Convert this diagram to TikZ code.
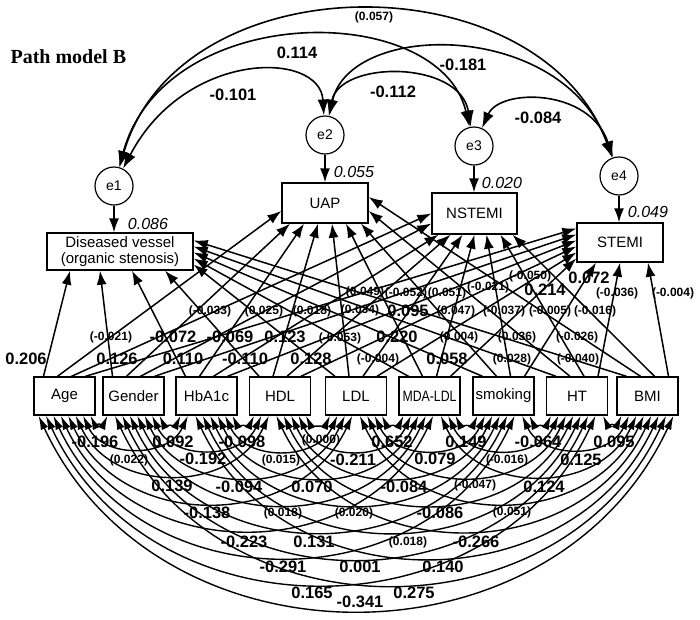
\documentclass[tikz,border=0pt]{standalone}
\usepackage{fontspec}
\usepackage{graphicx}
\setmainfont{Liberation Serif}
\setsansfont{Liberation Sans}
\usetikzlibrary{arrows.meta,calc}
\tikzset{
  box/.style={draw, line width=1.4pt, inner sep=0pt, align=center,
    font=\sffamily\fontsize{15}{16}\selectfont},
  errc/.style={draw, circle, line width=1.2pt, minimum size=38pt, inner sep=0pt,
    font=\sffamily\fontsize{14}{16}\selectfont},
  pth/.style={line width=1.5pt, -{Latex[length=14pt,width=10pt]}},
  cov/.style={line width=1.4pt, {Latex[length=14pt,width=8pt]}-{Latex[length=14pt,width=8pt]}},
  ecov/.style={line width=1.6pt, {Latex[length=16pt,width=11pt]}-{Latex[length=16pt,width=11pt]}},
  big/.style={font=\sffamily\bfseries\fontsize{16.5}{18}\selectfont, inner sep=0pt},
  sml/.style={font=\sffamily\bfseries\fontsize{12}{14}\selectfont, inner sep=0pt},
  rsq/.style={font=\sffamily\itshape\fontsize{16}{18}\selectfont, inner sep=0pt},
}
\begin{document}
\begin{tikzpicture}[x=1pt,y=-1pt]
\fill[white] (0,0) rectangle (700,619);
\useasboundingbox (0,0) rectangle (700,619);

\node[anchor=west, font=\rmfamily\bfseries\fontsize{20}{22}\selectfont] (title) at (7,57) {Path model B};

% outcome boxes
\node[box, minimum width=146pt, minimum height=37pt] (dv) at (120,251.5) {Diseased vessel\\(organic stenosis)};
\node[box, minimum width=86pt, minimum height=40pt] (uap) at (325,203) {UAP};
\node[box, minimum width=85pt, minimum height=41pt] (nst) at (474.5,213.5) {NSTEMI};
\node[box, minimum width=86pt, minimum height=39pt] (stemi) at (620,242.5) {STEMI};

% error terms
\node[errc] (e1) at (114,186) {e1};
\node[errc] (e2) at (325,135) {e2};
\node[errc] (e3) at (474,146) {e3};
\node[errc] (e4) at (619,176) {e4};
\draw[pth] (e1.south) -- (e1.south |- dv.north);
\draw[pth] (e2.south) -- (e2.south |- uap.north);
\draw[pth] (e3.south) -- (e3.south |- nst.north);
\draw[pth] (e4.south) -- (e4.south |- stemi.north);

% R squared
\node[rsq] (r1) at (148,224) {0.086};
\node[rsq] (r2) at (354,172) {0.055};
\node[rsq] (r3) at (502,183) {0.020};
\node[rsq] (r4) at (648,212) {0.049};

% error covariances
\draw[ecov] (e1) .. controls (180,-40) and (540,-40) .. (e4);
\draw[ecov] (e1) .. controls (165,0) and (440,0) .. (e3);
\draw[ecov] (e1) .. controls (185,50) and (320,50) .. (e2);
\draw[ecov] (e2) .. controls (350,20) and (563,20) .. (e4);
\draw[ecov] (e2) .. controls (340,60) and (460,60) .. (e3);
\draw[ecov] (e3) .. controls (500,88) and (590,88) .. (e4);
\node[sml] (c14) at (374,17) {(0.057)};
\node[big] (c13) at (297,53) {0.114};
\node[big] (c12) at (233,95) {-0.101};
\node[big] (c24) at (463,65) {-0.181};
\node[big] (c23) at (393,92) {-0.112};
\node[big] (c34) at (538,118) {-0.084};

% predictors
\foreach \i/\cx/\t in {0/64.5/Age,1/133.5/Gender,2/206.5/HbA1c,3/280/HDL,4/356/LDL,
  5/429.5/{\scalebox{0.82}[1]{MDA-LDL}},6/503.5/smoking,7/577/HT,8/647.5/BMI}{
  \node[box, minimum width=61pt, minimum height=38pt] (p\i) at (\cx,396) {\t};
}

% paths to Diseased vessel
\draw[pth] ([xshift=-21pt]p0.north) -- ([xshift=-50pt]dv.south);
\draw[pth] ([xshift=-21pt]p1.north) -- ([xshift=-20pt]dv.south);
\draw[pth] ([xshift=-21pt]p2.north) -- ([xshift=12pt]dv.south);
\draw[pth] ([xshift=-21pt]p3.north) -- ([xshift=45pt]dv.south);
\draw[pth] ([xshift=-21pt]p4.north) -- ([yshift=-13pt]dv.east);
\draw[pth] ([xshift=-21pt]p5.north) -- ([yshift=-7pt]dv.east);
\draw[pth] ([xshift=-21pt]p6.north) -- ([yshift=-1pt]dv.east);
\draw[pth] ([xshift=-21pt]p7.north) -- ([yshift=5pt]dv.east);
\draw[pth] ([xshift=-21pt]p8.north) -- ([yshift=11pt]dv.east);
% paths to UAP
\draw[pth] ([xshift=-7pt]p0.north) -- ([yshift=-8pt]uap.west);
\draw[pth] ([xshift=-7pt]p1.north) -- ([xshift=-35pt]uap.south);
\draw[pth] ([xshift=-7pt]p2.north) -- ([xshift=-21pt]uap.south);
\draw[pth] ([xshift=-7pt]p3.north) -- ([xshift=-7pt]uap.south);
\draw[pth] ([xshift=-7pt]p4.north) -- ([xshift=7pt]uap.south);
\draw[pth] ([xshift=-7pt]p5.north) -- ([xshift=21pt]uap.south);
\draw[pth] ([xshift=-7pt]p6.north) -- ([xshift=36pt]uap.south);
\draw[pth] ([xshift=-7pt]p7.north) -- ([yshift=-8pt]uap.east);
\draw[pth] ([xshift=-7pt]p8.north) -- ([yshift=6pt]uap.east);
% paths to NSTEMI
\draw[pth] ([xshift=7pt]p0.north) -- (nst.west);
\draw[pth] ([xshift=7pt]p1.north) -- ([yshift=-10pt]nst.west);
\draw[pth] ([xshift=7pt]p2.north) -- ([xshift=-36pt]nst.south);
\draw[pth] ([xshift=7pt]p3.north) -- ([xshift=-24pt]nst.south);
\draw[pth] ([xshift=7pt]p4.north) -- ([xshift=-12pt]nst.south);
\draw[pth] ([xshift=7pt]p5.north) -- (nst.south);
\draw[pth] ([xshift=7pt]p6.north) -- ([xshift=12pt]nst.south);
\draw[pth] ([xshift=7pt]p7.north) -- ([xshift=26pt]nst.south);
\draw[pth] ([xshift=7pt]p8.north) -- ([xshift=38pt]nst.south);
% paths to STEMI
\draw[pth] ([xshift=21pt]p0.north) -- ([yshift=14pt]stemi.west);
\draw[pth] ([xshift=21pt]p1.north) -- ([yshift=8pt]stemi.west);
\draw[pth] ([xshift=21pt]p2.north) -- ([yshift=2pt]stemi.west);
\draw[pth] ([xshift=21pt]p3.north) -- ([yshift=-4pt]stemi.west);
\draw[pth] ([xshift=21pt]p4.north) -- ([yshift=-10pt]stemi.west);
\draw[pth] ([xshift=21pt]p5.north) -- ([yshift=-16pt]stemi.west);
\draw[pth] ([xshift=21pt]p6.north) -- ([xshift=-24pt]stemi.south);
\draw[pth] ([xshift=21pt]p7.north) -- (stemi.south);
\draw[pth] ([xshift=21pt]p8.north) -- ([xshift=28pt]stemi.south);

% path coefficient labels
\node[big] at (26,359) {0.206};
\node[big] at (117,359) {0.126};
\node[big] at (183,359) {0.110};
\node[big] at (245,359) {-0.110};
\node[big] at (311,359) {0.128};
\node[sml] at (378,359) {(-0.004)};
\node[big] at (447,359) {0.058};
\node[sml] at (512,359) {(0.028)};
\node[sml] at (578,359) {(-0.040)};

\node[sml] at (111,337) {(-0.021)};
\node[big] at (173,337) {-0.072};
\node[big] at (230,337) {-0.069};
\node[big] at (285,337) {0.123};
\node[sml] at (340,338) {(-0.053)};
\node[big] at (397,337) {0.220};
\node[sml] at (459,337) {(0.004)};
\node[sml] at (517,337) {(0.036)};
\node[sml] at (577,337) {(-0.026)};

\node[sml] at (210,311) {(-0.033)};
\node[sml] at (264,311) {(0.025)};
\node[sml] at (312,311) {(0.018)};
\node[sml] at (360,310) {(0.034)};
\node[big] at (408,311) {0.095};
\node[sml] at (456,311) {(0.047)};
\node[sml] at (504,311) {(-0.037)};
\node[sml] at (550,311) {(-0.005)};
\node[sml] at (595,311) {(-0.016)};

\node[sml] at (365,292) {(0.049)};
\node[sml] at (406,293) {(-0.052)};
\node[sml] at (447,293) {(0.051)};
\node[sml] at (488,287) {(-0.021)};
\node[sml] at (530,276) {(-0.050)};
\node[big] at (545,290) {0.214};
\node[big] at (589,278) {0.072};
\node[sml] at (617,293) {(-0.036)};
\node[sml] at (673,293) {(-0.004)};

% predictor covariances
\foreach \a in {0,...,7}{
  \pgfmathtruncatemacro{\aa}{\a+1}
  \foreach \b in {\aa,...,8}{
    \pgfmathsetmacro{\xa}{-26+(\a+8-\b)*52/7}
    \pgfmathsetmacro{\xb}{-26+(\b-1-\a)*52/7}
    \draw[cov] ([xshift=\xa pt]p\a.south) to[bend right=65, looseness=1.15] ([xshift=\xb pt]p\b.south);
  }
}

\node[big] at (95,442) {-0.196};
\node[big] at (173,442) {0.092};
\node[big] at (242,442) {-0.098};
\node[sml] at (321,440) {(0.000)};
\node[big] at (392,442) {0.652};
\node[big] at (466,442) {0.149};
\node[big] at (538,442) {-0.064};
\node[big] at (614,442) {0.095};

\node[sml] at (129,460) {(0.022)};
\node[big] at (203,459) {-0.192};
\node[sml] at (281,460) {(0.015)};
\node[big] at (353,460) {-0.211};
\node[big] at (435,459) {0.079};
\node[sml] at (507,460) {(-0.016)};
\node[big] at (581,460) {0.125};

\node[big] at (172,486) {0.139};
\node[big] at (239,487) {-0.094};
\node[big] at (312,487) {0.070};
\node[big] at (404,487) {-0.084};
\node[sml] at (475,485) {(-0.047)};
\node[big] at (544,487) {0.124};

\node[big] at (207,513) {-0.138};
\node[sml] at (283,513) {(0.018)};
\node[sml] at (354,513) {(0.020)};
\node[big] at (440,513) {-0.086};
\node[sml] at (512,512) {(0.051)};

\node[big] at (244,542) {-0.223};
\node[big] at (314,542) {0.131};
\node[sml] at (408,542) {(0.018)};
\node[big] at (476,542) {-0.266};

\node[big] at (283,567) {-0.291};
\node[big] at (360,567) {0.001};
\node[big] at (443,567) {0.140};

\node[big] at (312,593) {0.165};
\node[big] at (360,602) {-0.341};
\node[big] at (414,593) {0.275};
\end{tikzpicture}
\end{document}
